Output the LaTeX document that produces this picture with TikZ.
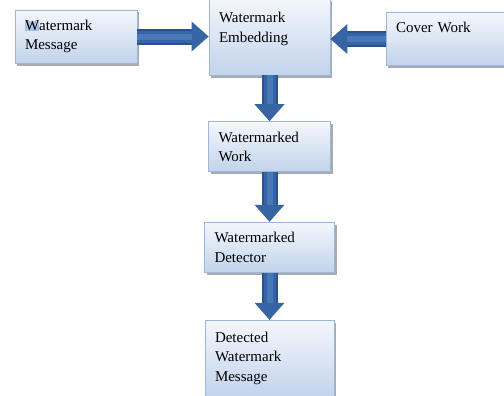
\documentclass[tikz,border=0pt]{standalone}
\usepackage{fontspec}
\setmainfont{Liberation Serif}
\usepackage{tikz}
\usetikzlibrary{shapes,arrows,arrows.meta,shadows}
\definecolor{boxtop}{HTML}{F4F7FC}
\definecolor{boxbot}{HTML}{C2D3EB}
\definecolor{boxline}{HTML}{9DB7DB}
\definecolor{shadowgray}{HTML}{A8ACB2}
\definecolor{arrowdark}{HTML}{2A5290}
\definecolor{arrowmid}{HTML}{3764A3}
\definecolor{arrowlight}{HTML}{4778B8}
\definecolor{marked}{HTML}{A9C3E6}
\tikzstyle{block} = [rectangle, draw=boxline, line width=0.8bp, top color=boxtop, bottom color=boxbot,
align=left, inner xsep=10bp, inner ysep=10bp, font=\fontsize{15bp}{19.5bp}\selectfont,
drop shadow={shadow xshift=2bp, shadow yshift=-2.5bp, fill=shadowgray, opacity=1}]
\tikzstyle{line} = [draw=arrowdark, line width=16bp,
-{Triangle[width=30bp, length=17bp, line width=0pt, fill=arrowmid]},
postaction={draw=arrowmid, line width=12bp, -, shorten >=17bp},
postaction={draw=arrowlight, line width=6bp, -, shorten >=17bp}]

\begin{document}
\begin{tikzpicture}[node distance = 110bp, auto]
			\useasboundingbox (0,0) rectangle (504bp,-396bp);
			\node [block, text width=101bp, text height=14.7bp, text depth=42.3bp] (embed) at (269.5bp,-36.5bp) {Watermark\\Embedding};
			\node [block, text width=102bp, minimum height=52bp, left of=embed, node distance=193.5bp] (message) {{\fboxsep=0pt\colorbox{marked}{W}}atermark\\Message};
			\node [block, text width=104bp, text height=10bp, text depth=22.3bp, right of=embed, node distance=178.5bp, yshift=-2.5bp] (cover) {Cover Work};
			\node [block, text width=102bp, minimum height=50bp, below of=embed, node distance=110.2bp] (marked) {Watermarked\\Work};
			\node [block, text width=110bp, minimum height=49bp, below of=marked, node distance=100.5bp] (detector) {Watermarked\\Detector};
			\node [block, text width=109bp, minimum height=76bp, below of=detector, node distance=111bp] (detected) {Detected\\Watermark\\Message};
			\path [line] (message) -- (embed);
			\path [line] (cover.west) -- (cover.west -| embed.east);
			\path [line] (embed) -- (marked);
			\path [line] (marked) -- (detector);
			\path [line] (detector) -- (detected);
		\end{tikzpicture}
\end{document}
